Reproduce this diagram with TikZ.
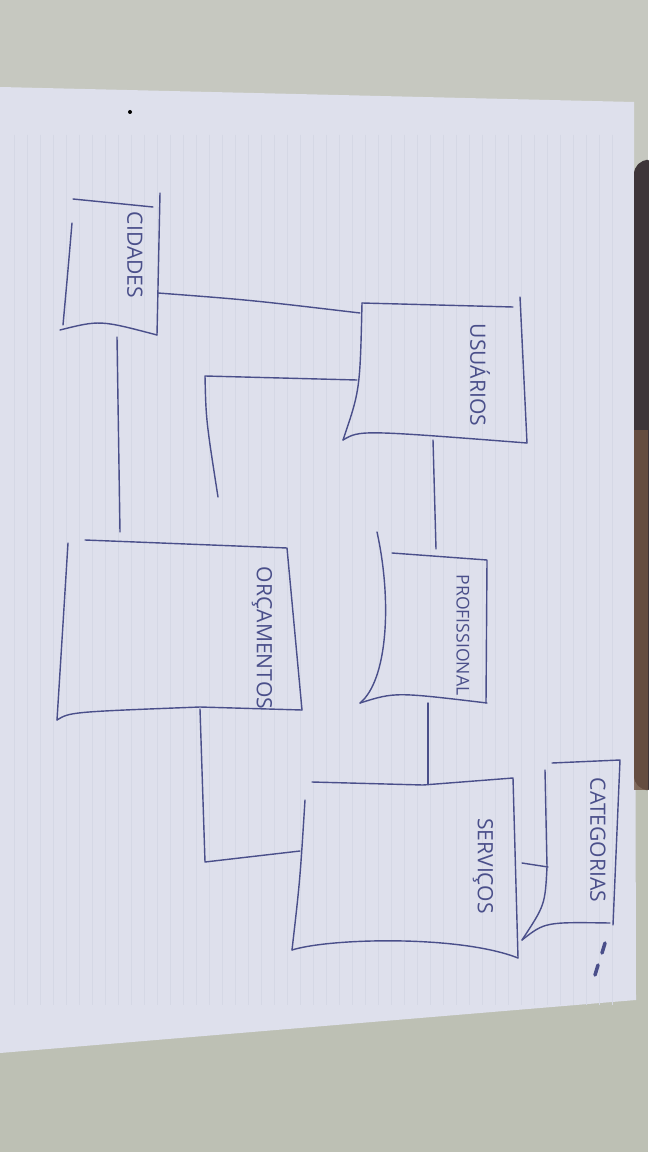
\documentclass[tikz,border=0pt]{standalone}
\usepackage{fontspec}
\setmainfont{Open Sans}
\definecolor{pen}{HTML}{4A4F8A}
\definecolor{paper}{HTML}{DEE0EC}
\definecolor{ruling}{HTML}{D5D8E5}
\definecolor{walltop}{HTML}{C6C8C0}
\definecolor{wallbot}{HTML}{BDC0B4}
\definecolor{cover}{HTML}{3E3539}
\definecolor{coverbrown}{HTML}{6F5342}

\begin{document}
\begin{tikzpicture}[x=0.01cm,y=-0.01cm]
	\tikzstyle{stroke}=[draw=pen, line width=0.4pt, line cap=round, line join=round]
	\tikzstyle{label}=[text=pen, rotate=-90, inner sep=0pt, font=\fontsize{6}{7}\selectfont]
	\useasboundingbox (0,0) rectangle (648,1152);
	\fill[walltop] (0,0) rectangle (648,600);
	\fill[wallbot] (0,600) rectangle (648,1152);
	\fill[paper] (0,87) -- (634,102) -- (636,1000) -- (0,1053) -- cycle;
	\foreach \x in {14,27,...,620}
		\draw[ruling, line width=0.25pt] (\x,135) -- (\x,1005);
	\fill[cover, rounded corners=4pt] (634,160) rectangle (660,790);
	\fill[coverbrown, opacity=0.8] (634,430) rectangle (648,790);
	\fill[black] (130,112) circle (2);

	\node[label] (cidades) at (135,255) {CIDADES};
	\node[label] (usuarios) at (480,375) {USUÁRIOS};
	\node[label, font=\fontsize{5}{6}\selectfont] (profissional) at (463,635) {PROFISSIONAL};
	\node[label] (orcamentos) at (262,638) {ORÇAMENTOS};
	\node[label] (servicos) at (483,866) {SERVIÇOS};
	\node[label] (categorias) at (598,840) {CATEGORIAS};

	\draw[stroke] (73,199) -- (153,207);
	\draw[stroke] (160,193) -- (157,335);
	\draw[stroke] (72,223) .. controls (68,270) .. (63,325);
	\draw[stroke] (60,330) .. controls (100,320) .. (157,335);

	\draw[stroke] (362,303) -- (513,307);
	\draw[stroke] (520,297) -- (527,443);
	\draw[stroke] (362,303) .. controls (360,390) .. (343,440);
	\draw[stroke] (343,440) .. controls (360,430) .. (527,443);

	\draw[stroke] (392,553) -- (487,560) -- (486,703);
	\draw[stroke] (377,532) .. controls (392,600) and (388,680) .. (360,703);
	\draw[stroke] (360,703) .. controls (395,692) .. (487,703);

	\draw[stroke] (85,540) -- (287,548) -- (302,710);
	\draw[stroke] (68,543) .. controls (62,640) .. (57,720);
	\draw[stroke] (57,720) .. controls (70,712) .. (200,707) -- (302,710);

	\draw[stroke] (312,782) -- (423,785) -- (513,778) -- (518,958);
	\draw[stroke] (305,800) .. controls (300,880) .. (292,950);
	\draw[stroke] (292,950) .. controls (330,938) and (460,935) .. (518,958);

	\draw[stroke] (552,763) -- (620,760) -- (613,925);
	\draw[stroke] (545,770) -- (547,867) .. controls (545,905) .. (522,940);
	\draw[stroke] (522,940) .. controls (545,922) .. (610,923);

	\coordinate (cid-r) at (158,293);
	\coordinate (cid-b) at (117,337);
	\coordinate (usu-l) at (360,313);
	\coordinate (usu-l2) at (357,380);
	\coordinate (usu-b) at (433,440);
	\coordinate (pro-t) at (436,549);
	\coordinate (pro-b) at (428,703);
	\coordinate (orc-t) at (120,532);
	\coordinate (orc-t2) at (218,497);
	\coordinate (orc-b) at (200,709);
	\coordinate (ser-t) at (428,784);
	\coordinate (ser-l) at (300,851);
	\coordinate (ser-r) at (522,863);
	\coordinate (cat-l) at (548,867);

	\draw[stroke] (cid-r) .. controls (250,300) .. (usu-l);
	\draw[stroke] (usu-l2) -- (205,376) .. controls (206,420) .. (orc-t2);
	\draw[stroke] (cid-b) -- (orc-t);
	\draw[stroke] (usu-b) -- (pro-t);
	\draw[stroke] (pro-b) -- (ser-t);
	\draw[stroke] (orc-b) -- (205,862) -- (ser-l);
	\draw[stroke] (ser-r) -- (cat-l);

	\draw[pen, line width=1pt, line cap=round] (605,943) -- (602,953);
	\draw[pen, line width=1pt, line cap=round] (598,965) -- (595,975);
\end{tikzpicture}
\end{document}
